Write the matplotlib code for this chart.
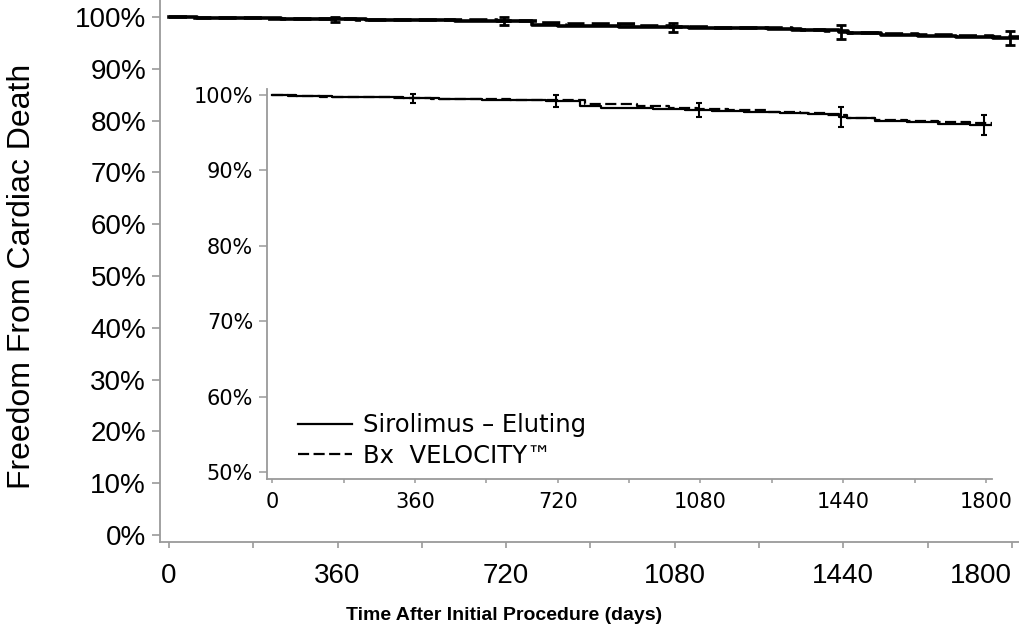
import numpy as np
import matplotlib.pyplot as plt

# Kaplan-Meier estimates: percent free from cardiac death by follow-up day
days_sirolimus = [0, 60, 150, 240, 330, 420, 530, 610, 690, 775, 830, 900, 960,
                  1040, 1110, 1190, 1280, 1350, 1430, 1450, 1520, 1600, 1680, 1760, 1815]
surv_sirolimus = [100.0, 99.9, 99.8, 99.7, 99.55, 99.5, 99.4, 99.3, 99.2, 98.5, 98.3, 98.25, 98.15,
                  98.0, 97.9, 97.8, 97.65, 97.5, 97.1, 96.9, 96.6, 96.4, 96.2, 96.0, 96.0]

days_bx = [0, 40, 120, 200, 300, 400, 500, 600, 700, 790, 850, 920, 1000,
           1070, 1150, 1250, 1330, 1400, 1450, 1520, 1600, 1680, 1760, 1815]
surv_bx = [100.0, 99.85, 99.75, 99.7, 99.6, 99.5, 99.45, 99.35, 99.3, 98.8, 98.75, 98.6, 98.3,
           98.1, 97.95, 97.8, 97.6, 97.35, 96.95, 96.7, 96.55, 96.4, 96.25, 96.2]

# confidence bars on the sirolimus curve
err_days = [355, 716, 1076, 1435, 1795]
err_half = [0.55, 0.75, 0.95, 1.3, 1.35]

x_major = [0, 360, 720, 1080, 1440, 1800]
x_minor = [180, 540, 900, 1260, 1620]

label_sir = "Sirolimus \u2013 Eluting"
label_bx = "Bx  VELOCITY\u2122"

GRAY = "#9a9a9a"
W, H = 1019, 633


def value_at(days, surv, d):
    i = np.searchsorted(days, d, side="right") - 1
    return surv[i]


def draw_curves(ax, lw, cap, elw):
    ax.step(days_sirolimus, surv_sirolimus, where="post", color="black", lw=lw,
            label=label_sir)
    ax.step(days_bx, surv_bx, where="post", color="black", lw=lw,
            dashes=(5, 2), label=label_bx)
    centers = [value_at(days_sirolimus, surv_sirolimus, d) for d in err_days]
    ax.errorbar(err_days, centers, yerr=err_half, fmt="none", ecolor="black",
                elinewidth=elw, capsize=cap, capthick=elw)


def style_axes(ax):
    for side in ("top", "right"):
        ax.spines[side].set_visible(False)
    for side in ("left", "bottom"):
        ax.spines[side].set_color(GRAY)
        ax.spines[side].set_linewidth(1.3)
    ax.set_xticks(x_major)
    ax.set_xticks(x_minor, minor=True)
    ax.tick_params(which="both", colors=GRAY, labelcolor="black")


fig = plt.figure(figsize=(W / 100, H / 100), dpi=100)

# main panel, 0-100 %
ax = fig.add_axes([160 / W, (H - 542) / H, (W - 160) / W, 542 / H])
draw_curves(ax, lw=2.6, cap=3.5, elw=2.0)
style_axes(ax)
ax.set_xlim(-19, 1815)
ax.set_ylim(-1.35, 103.3)
ax.set_yticks(range(0, 101, 10))
ax.set_yticklabels([f"{v}%" for v in range(0, 101, 10)],
                   fontfamily="Liberation Sans", fontsize=20)
ax.set_xticklabels([str(v) for v in x_major], fontfamily="Liberation Sans", fontsize=20)
ax.get_xticklabels()[-1].set_horizontalalignment("right")
ax.tick_params(axis="y", length=6, width=1.2, pad=4)
ax.tick_params(axis="x", which="both", length=4, width=1.2, pad=11)

fig.text(22 / W, 1 - 276 / H, "Freedom From Cardiac Death", rotation=90,
         ha="center", va="center", fontfamily="Liberation Sans", fontsize=23)
fig.text(504 / W, 1 - 616 / H, "Time After Initial Procedure (days)",
         ha="center", va="center", fontfamily="Liberation Sans",
         fontweight="bold", fontsize=14)

# zoomed panel, 50-100 %
ins = fig.add_axes([267 / W, (H - 479) / H, (992 - 267) / W, (479 - 89) / H])
ins.patch.set_alpha(0)
draw_curves(ins, lw=1.6, cap=2.5, elw=1.5)
style_axes(ins)
ins.set_xlim(-13, 1815)
ins.set_ylim(49.07, 100.8)
ins.set_yticks(range(50, 101, 10))
ins.set_yticklabels([f"{v}%" for v in range(50, 101, 10)],
                    fontfamily="DejaVu Sans", fontsize=15)
ins.set_xticklabels([str(v) for v in x_major], fontfamily="DejaVu Sans", fontsize=15)
ins.tick_params(axis="y", length=6, width=1.1, pad=4)
ins.tick_params(axis="x", which="both", length=3, width=1.1, pad=6)

ins.legend(loc="center left", bbox_to_anchor=(0.043, 0.099), frameon=False,
           prop={"family": "DejaVu Sans", "size": 17.5}, handlelength=2.2,
           handletextpad=0.45, labelspacing=0.26, borderpad=0, borderaxespad=0)

fig.savefig("out.png", dpi=100)
